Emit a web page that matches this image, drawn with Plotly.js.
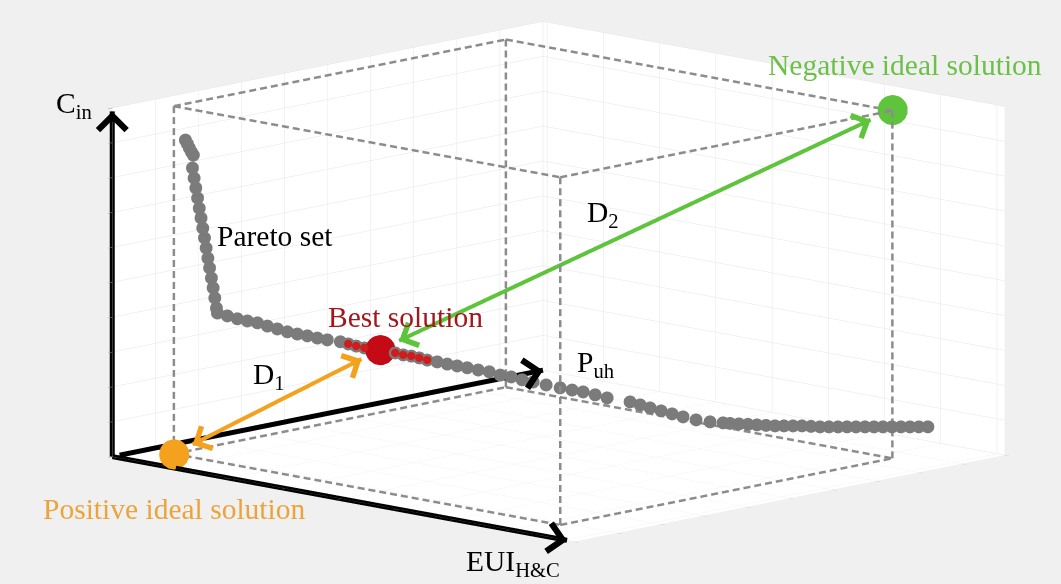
<!DOCTYPE html>
<html>
<head>
<meta charset="utf-8">
<script src="https://cdn.plot.ly/plotly-3.0.1.min.js"></script>
<style>
html,body{margin:0;padding:0;background:#f0f0f0;}
#chart{width:1061px;height:584px;}
</style>
</head>
<body>
<div id="chart"></div>
<script>
// ---------------- data (normalised objective values) ----------------
const paretoEUI = [0.0700,0.0723,0.0747,0.0771,0.0794,
  0.0783,0.0803,0.0823,0.0844,0.0864,0.0885,0.0905,0.0926,0.0946,0.0966,0.0986,0.1008,0.1028,0.1048,0.1068,0.1079,
  0.1197,0.1316,0.1434,0.1553,0.1671,0.1789,0.1908,0.2026,0.2145,0.2263,0.2382,0.2536,
  0.3684,0.3803,0.3921,0.4040,0.4170,0.4300,0.4431,0.4561,0.4691,0.4821,0.4975,0.5141,0.5283,0.5414,0.5556,0.5698,
  0.5970,0.6089,0.6207,0.6338,0.6468,0.6598,0.6752,0.6918,0.7072,
  0.7155,0.7261,0.7368,0.7474,0.7581,0.7688,0.7794,0.7901,0.8007,0.8114,0.8221,0.8327,0.8434,0.8541,0.8647,0.8754,0.8860,0.8967,0.9073,0.9180,0.9287,0.9393,0.9500];
const paretoPuh = [0.0944,0.0965,0.0986,0.1007,0.1027,
  0.1018,0.1035,0.1053,0.1072,0.1089,0.1108,0.1126,0.1144,0.1162,0.1180,0.1198,0.1217,0.1235,0.1253,0.1270,0.1280,
  0.1385,0.1490,0.1595,0.1701,0.1805,0.1910,0.2016,0.2120,0.2226,0.2331,0.2436,0.2573,
  0.3591,0.3697,0.3801,0.3907,0.4022,0.4138,0.4254,0.4369,0.4484,0.4600,0.4736,0.4884,0.5010,0.5126,0.5252,0.5378,
  0.5619,0.5725,0.5829,0.5945,0.6061,0.6176,0.6313,0.6460,0.6597,
  0.6670,0.6764,0.6859,0.6953,0.7048,0.7143,0.7237,0.7332,0.7426,0.7521,0.7616,0.7710,0.7805,0.7900,0.7994,0.8089,0.8183,0.8278,0.8372,0.8467,0.8561,0.8655,0.8750];
const paretoCin = [0.902,0.891,0.879,0.868,0.859,
  0.822,0.793,0.765,0.736,0.707,0.679,0.650,0.622,0.593,0.564,0.536,0.507,0.479,0.450,0.421,0.407,
  0.399,0.391,0.385,0.380,0.371,0.363,0.355,0.349,0.344,0.338,0.333,0.328,
  0.273,0.267,0.262,0.257,0.251,0.246,0.237,0.232,0.224,0.218,0.210,0.202,0.196,0.191,0.183,0.1745,
  0.1637,0.1554,0.1471,0.1388,0.1305,0.1222,0.1140,0.1087,0.1062,
  0.1049,0.1037,0.1026,0.1014,0.1002,0.0990,0.0993,0.0995,0.0998,0.0986,0.0974,0.0977,0.0979,0.0982,0.0984,0.0987,0.0989,0.0992,0.0994,0.0997,0.0999,0.1002,0.1005];

// solutions close to the best one (highlighted in red)
const nearEUI = [0.2630,0.2725,0.2820,0.3187,0.3282,0.3377,0.3471,0.3566];
const nearPuh = [0.2656,0.2740,0.2825,0.3150,0.3234,0.3319,0.3402,0.3486];
const nearCin = [0.322,0.316,0.311,0.2975,0.292,0.289,0.284,0.278];

const bestSol = [0.3009, 0.2992, 0.306];   // [EUI, Puh, Cin]
const posIdeal = [0.054, 0.085, 0.0];
const negIdeal = [0.891, 0.856, 1.0];
const axisTip = [0.985, 1.0, 0.99];

// ---------------- view / style ----------------
const AX = 2.2706, AY = 2.2123, AZ = 1.2624;
const VIEW = [0.6787, -0.7089, 0.1922];
const EYE_DIST = 2.0;
const Z_AXIS_PX = 349;

function norm(v){const l=Math.hypot(v[0],v[1],v[2]);return [v[0]/l,v[1]/l,v[2]/l];}
function cross(a,b){return [a[1]*b[2]-a[2]*b[1],a[2]*b[0]-a[0]*b[2],a[0]*b[1]-a[1]*b[0]];}
function dot(a,b){return a[0]*b[0]+a[1]*b[1]+a[2]*b[2];}
function sub(a,b){return [a[0]-b[0],a[1]-b[1],a[2]-b[2]];}
const V = norm(VIEW);
const R = norm(cross([0,0,1], V));
const U = cross(V, R);
const PPU = Z_AXIS_PX / (AZ * U[2]);

function scr(d){const s=[d[0]*AX,d[1]*AY,d[2]*AZ];return [dot(s,R),dot(s,U)];}
function pxLen(a,b){const s=scr(sub(b,a));return Math.hypot(s[0],s[1])*PPU;}
function lerp(a,b,t){return [a[0]+(b[0]-a[0])*t,a[1]+(b[1]-a[1])*t,a[2]+(b[2]-a[2])*t];}
// move a point along the line of sight (same place on screen, only nearer to the viewer)
function toViewer(p, d){return [p[0]+d*V[0]/AX, p[1]+d*V[1]/AY, Math.min(1, p[2]+d*V[2]/AZ)];}

function pathTrace(pts, color, width){
  return {type:'scatter3d', mode:'lines', hoverinfo:'skip', showlegend:false,
    x:pts.map(p=>p?p[0]:null), y:pts.map(p=>p?p[1]:null), z:pts.map(p=>p?p[2]:null),
    line:{color:color, width:width}};
}
function dashed(A, B, on, off, out){
  const L = pxLen(A,B);
  const n = Math.floor((L + off)/(on + off));
  for (let i=0;i<n;i++){
    const t0 = i*(on+off)/L, t1 = Math.min(1, (i*(on+off)+on)/L);
    out.push(toViewer(lerp(A,B,t0),0.02), toViewer(lerp(A,B,t1),0.02), null);
  }
}
function headAnn(from, tip, color, width, size){
  const s = scr(sub(tip, from)); const l = Math.hypot(s[0], s[1]);
  const L = 12;
  return {x:tip[0], y:tip[1], z:tip[2], text:' ', font:{size:1}, showarrow:true,
    arrowhead:4, arrowsize:size, arrowwidth:width, arrowcolor:color, standoff:0,
    ax:-s[0]/l*L, ay:s[1]/l*L};
}

// dashed bounding box between the ideal solutions
const lim = [posIdeal, negIdeal];
const corner = (i,j,k) => [lim[i][0], lim[j][1], lim[k][2]];
const boxPts = [];
for (let i=0;i<2;i++) for (let j=0;j<2;j++) for (let k=0;k<2;k++) {
  if (i===0) dashed(corner(0,j,k), corner(1,j,k), 7, 4, boxPts);
  if (j===0) dashed(corner(i,0,k), corner(i,1,k), 7, 4, boxPts);
  if (k===0) dashed(corner(i,j,0), corner(i,j,1), 7, 4, boxPts);
}

// distance arrows D1 (positive ideal -> best) and D2 (best -> negative ideal)
const GAP = 21;
const d1a = lerp(posIdeal, bestSol, GAP/pxLen(posIdeal,bestSol)), d1b = lerp(posIdeal, bestSol, 1-GAP/pxLen(posIdeal,bestSol));
const d2a = lerp(bestSol, negIdeal, GAP/pxLen(bestSol,negIdeal)), d2b = lerp(bestSol, negIdeal, 1-24/pxLen(bestSol,negIdeal));

const O = [0,0,0];
const tipC = [0,0,axisTip[2]], tipE = [axisTip[0],0,0], tipP = [0,axisTip[1],0];
const posShown = toViewer(posIdeal, 0.262);
const nearShown = nearEUI.map((v,i)=>toViewer([v, nearPuh[i], nearCin[i]], 0.015));

const traces = [
  pathTrace(boxPts, '#8c8c8c', 5),
  pathTrace([O, tipC], '#000000', 10),
  pathTrace([O, tipE], '#000000', 10),
  pathTrace([toViewer([0,0.017,0],0.05), toViewer(tipP,0.05)], '#000000', 10),
  {type:'scatter3d', mode:'markers', hoverinfo:'skip', showlegend:false,
   x:paretoEUI.concat(nearEUI), y:paretoPuh.concat(nearPuh), z:paretoCin.concat(nearCin),
   marker:{size:7.5, color:'#7b7b7b', line:{width:0}}},
  {type:'scatter3d', mode:'markers', hoverinfo:'skip', showlegend:false,
   x:nearShown.map(p=>p[0]), y:nearShown.map(p=>p[1]), z:nearShown.map(p=>p[2]),
   marker:{size:4.8, color:'#d01c1c', line:{width:0}}},
  pathTrace([d1a, d1b], '#f4a11d', 8),
  pathTrace([d2a, d2b], '#5ec43c', 8),
  {type:'scatter3d', mode:'markers', hoverinfo:'skip', showlegend:false,
   x:[posShown[0], negIdeal[0], bestSol[0]], y:[posShown[1], negIdeal[1], bestSol[1]], z:[posShown[2], negIdeal[2], bestSol[2]],
   marker:{size:17.5, color:['#f4a11d','#5ec43c','#c40a14'], line:{width:0}}}
];

const axisCommon = {
  autorange:false, range:[0,1], showbackground:true, backgroundcolor:'#ffffff',
  showgrid:true, gridcolor:'#e5e5e5', gridwidth:1, zeroline:false,
  showline:false,
  showticklabels:false, ticks:'outside', ticklen:6, tickcolor:'#a0a0a0', tickwidth:1,
  showspikes:false, title:{text:''}, tickmode:'linear'
};
const serif = 'Times New Roman, Liberation Serif, serif';
const FS = 29.5;
const m1 = lerp(posIdeal, bestSol, 0.5), m2 = lerp(bestSol, negIdeal, 0.5);
const ann = (p, text, opts) => Object.assign({x:p[0], y:p[1], z:p[2], text:text, showarrow:false,
  font:{family:serif, size:FS, color:'#000000'}}, opts);

const layout = {
  width:1061, height:584, margin:{l:0,r:0,t:0,b:0},
  paper_bgcolor:'#f0f0f0', showlegend:false, hovermode:false,
  scene:{
    domain:{x:[0.0528,1], y:[0.0352,1]},
    aspectmode:'manual', aspectratio:{x:AX, y:AY, z:AZ},
    camera:{eye:{x:V[0]*EYE_DIST, y:V[1]*EYE_DIST, z:V[2]*EYE_DIST}, up:{x:0,y:0,z:1}, center:{x:0,y:0,z:0},
            projection:{type:'orthographic'}},
    bgcolor:'rgba(0,0,0,0)', dragmode:false,
    xaxis:Object.assign({}, axisCommon, {tick0:0.009, dtick:0.1218}),
    yaxis:Object.assign({}, axisCommon, {tick0:0, dtick:0.1}),
    zaxis:Object.assign({}, axisCommon, {tick0:0, dtick:0.1}),
    annotations:[
      headAnn(O, tipC, '#000000', 5, 1.1),
      headAnn(O, tipE, '#000000', 5, 1.1),
      headAnn(O, tipP, '#000000', 5, 1.1),
      headAnn(d1b, d1a, '#f4a11d', 4, 1.2),
      headAnn(d1a, d1b, '#f4a11d', 4, 1.2),
      headAnn(d2b, d2a, '#5ec43c', 4, 1.2),
      headAnn(d2a, d2b, '#5ec43c', 4, 1.2),
      ann(tipC, 'C<sub>in</sub>', {xanchor:'right', yanchor:'middle', xshift:-18, yshift:6}),
      ann(tipE, 'EUI<sub>H&amp;C</sub>', {xanchor:'right', yanchor:'middle', xshift:-5, yshift:-22}),
      ann(tipP, 'P<sub>uh</sub>', {xanchor:'left', yanchor:'middle', xshift:32, yshift:6}),
      ann([paretoEUI[12], paretoPuh[12], paretoCin[12]], 'Pareto set', {xanchor:'left', yanchor:'middle', xshift:11, yshift:2}),
      ann(bestSol, 'Best solution', {xshift:25, yshift:33, font:{family:serif, size:FS, color:'#a3161c'}}),
      ann(m1, 'D<sub>1</sub>', {xshift:-8, yshift:26}),
      ann(m2, 'D<sub>2</sub>', {xshift:-33, yshift:16}),
      ann(negIdeal, 'Negative ideal solution', {xshift:13, yshift:45, font:{family:serif, size:FS, color:'#6cc04a'}}),
      ann(posIdeal, 'Positive ideal solution', {xshift:0, yshift:-55, font:{family:serif, size:FS, color:'#eba43c'}})
    ]
  }
};

Plotly.newPlot(document.getElementById('chart'), traces, layout, {displayModeBar:false});
</script>
</body>
</html>
